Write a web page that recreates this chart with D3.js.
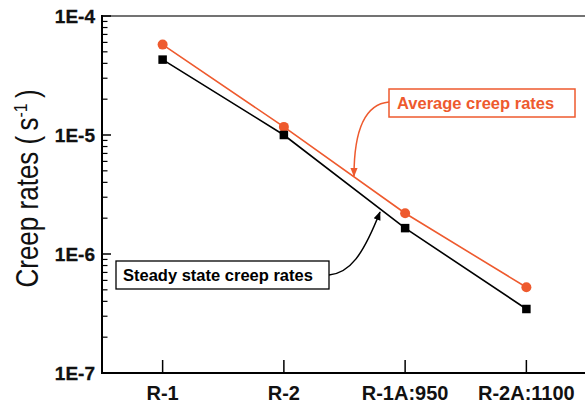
<!DOCTYPE html>
<html>
<head>
<meta charset="UTF-8">
<title>Creep rates</title>
<script src="https://d3js.org/d3.v7.min.js"></script>
<style>
    body { margin: 0; background: #fff; }
    svg { display: block; font-family: "Liberation Sans", Arial, sans-serif; }
    .tick-label { font-weight: bold; fill: #111; }
    .note { font-weight: bold; font-size: 16.5px; }
</style>
</head>
<body>
<div id="chart"></div>
<script>
// 数据
const categories = ["R-1", "R-2", "R-1A:950", "R-2A:1100"];
const averageRates = [5.75e-5, 1.17e-5, 2.2e-6, 5.25e-7];
const steadyRates = [4.3e-5, 1.0e-5, 1.65e-6, 3.45e-7];
const yTickValues = [1e-4, 1e-5, 1e-6, 1e-7];
const yTickLabels = ["1E-4", "1E-5", "1E-6", "1E-7"];

const W = 585, H = 407;
const pLeft = 102, pTop = 16, pBottom = 373, pRight = 587;
const orange = "#ee5a2e";

const svg = d3.select("#chart").append("svg")
    .attr("width", W).attr("height", H);

const x = d3.scalePoint().domain(categories).range([pLeft, pRight]).padding(0.5);
const y = d3.scaleLog().domain([1e-7, 1e-4]).range([pBottom, pTop]);

// 箭头
const defs = svg.append("defs");
[["arrowO", orange], ["arrowK", "#000"]].forEach(([id, c]) => {
    defs.append("marker")
        .attr("id", id)
        .attr("viewBox", "0 0 10 10")
        .attr("refX", 9).attr("refY", 5)
        .attr("markerWidth", 9).attr("markerHeight", 9)
        .attr("markerUnits", "userSpaceOnUse")
        .attr("orient", "auto")
        .append("path")
        .attr("d", "M0,1 L10,5 L0,9 Z")
        .attr("fill", c);
});

// 上边框
svg.append("line")
    .attr("x1", pLeft).attr("x2", W).attr("y1", pTop).attr("y2", pTop)
    .attr("stroke", "#444").attr("stroke-width", 1.3);

// y轴刻度（主、次）
const minor = [];
for (let e = -7; e < -4; e++) {
    for (let m = 2; m <= 9; m++) minor.push(m * Math.pow(10, e));
}
svg.selectAll(".minor").data(minor).enter().append("line")
    .attr("x1", pLeft).attr("x2", pLeft + 5.5)
    .attr("y1", d => y(d)).attr("y2", d => y(d))
    .attr("stroke", "#000").attr("stroke-width", 1.2);
svg.selectAll(".major").data(yTickValues).enter().append("line")
    .attr("x1", pLeft).attr("x2", pLeft + 9)
    .attr("y1", d => y(d)).attr("y2", d => y(d))
    .attr("stroke", "#000").attr("stroke-width", 1.5);
svg.selectAll(".ylab").data(yTickValues).enter().append("text")
    .attr("class", "tick-label")
    .attr("x", pLeft - 7).attr("y", d => y(d) + 6.5)
    .attr("text-anchor", "end")
    .style("font-size", "19px")
    .attr("stroke", "#111").attr("stroke-width", 0.3)
    .text((d, i) => yTickLabels[i]);

// x轴刻度
svg.selectAll(".xtick").data(categories).enter().append("line")
    .attr("x1", d => x(d)).attr("x2", d => x(d))
    .attr("y1", pBottom).attr("y2", pBottom - 13)
    .attr("stroke", "#000").attr("stroke-width", 1.5);
svg.selectAll(".xlab").data(categories).enter().append("text")
    .attr("class", "tick-label")
    .attr("x", d => x(d)).attr("y", 400)
    .attr("text-anchor", "middle")
    .style("font-size", "20px")
    .text(d => d);

// 轴线
svg.append("line")
    .attr("x1", pLeft).attr("x2", pLeft).attr("y1", pTop - 1).attr("y2", pBottom + 1)
    .attr("stroke", "#000").attr("stroke-width", 2);
svg.append("line")
    .attr("x1", pLeft - 1).attr("x2", W).attr("y1", pBottom).attr("y2", pBottom)
    .attr("stroke", "#000").attr("stroke-width", 2);

// y轴标题
const yt = svg.append("text")
    .attr("transform", `translate(38,${(85 + 292) / 2}) rotate(-90) scale(0.84,1)`)
    .attr("text-anchor", "middle")
    .style("font-size", "31px")
    .attr("fill", "#111");
yt.append("tspan").text("Creep rates (\u2009s");
yt.append("tspan").attr("dy", -11).style("font-size", "19px").text("-1");
yt.append("tspan").attr("dy", 11).text("\u2009)");

// 折线
const line = d3.line().x((d, i) => x(categories[i])).y(d => y(d));
svg.append("path").datum(averageRates)
    .attr("d", line).attr("fill", "none")
    .attr("stroke", orange).attr("stroke-width", 1.6);
svg.append("path").datum(steadyRates)
    .attr("d", line).attr("fill", "none")
    .attr("stroke", "#000").attr("stroke-width", 1.6);

svg.selectAll(".avg").data(averageRates).enter().append("circle")
    .attr("cx", (d, i) => x(categories[i])).attr("cy", d => y(d))
    .attr("r", 5).attr("fill", orange);
svg.selectAll(".std").data(steadyRates).enter().append("rect")
    .attr("x", (d, i) => x(categories[i]) - 4.25).attr("y", d => y(d) - 4.25)
    .attr("width", 8.5).attr("height", 8.5).attr("fill", "#000");

// 注释
svg.append("rect")
    .attr("x", 389).attr("y", 89).attr("width", 186).attr("height", 28)
    .attr("fill", "#fff").attr("stroke", orange).attr("stroke-width", 1.5);
svg.append("text").attr("class", "note")
    .attr("x", 397).attr("y", 108.5).attr("fill", orange)
    .text("Average creep rates");
svg.append("path")
    .attr("d", "M389,102 C366,104 354,128 354,176")
    .attr("fill", "none").attr("stroke", orange).attr("stroke-width", 1.5)
    .attr("marker-end", "url(#arrowO)");

svg.append("rect")
    .attr("x", 116).attr("y", 261).attr("width", 213).attr("height", 28)
    .attr("fill", "#fff").attr("stroke", "#000").attr("stroke-width", 1.3);
svg.append("text").attr("class", "note")
    .attr("x", 123).attr("y", 280.5).attr("fill", "#000")
    .text("Steady state creep rates");
svg.append("path")
    .attr("d", "M329,275 C350,273 363,255 380,212")
    .attr("fill", "none").attr("stroke", "#000").attr("stroke-width", 1.5)
    .attr("marker-end", "url(#arrowK)");
</script>
</body>
</html>
